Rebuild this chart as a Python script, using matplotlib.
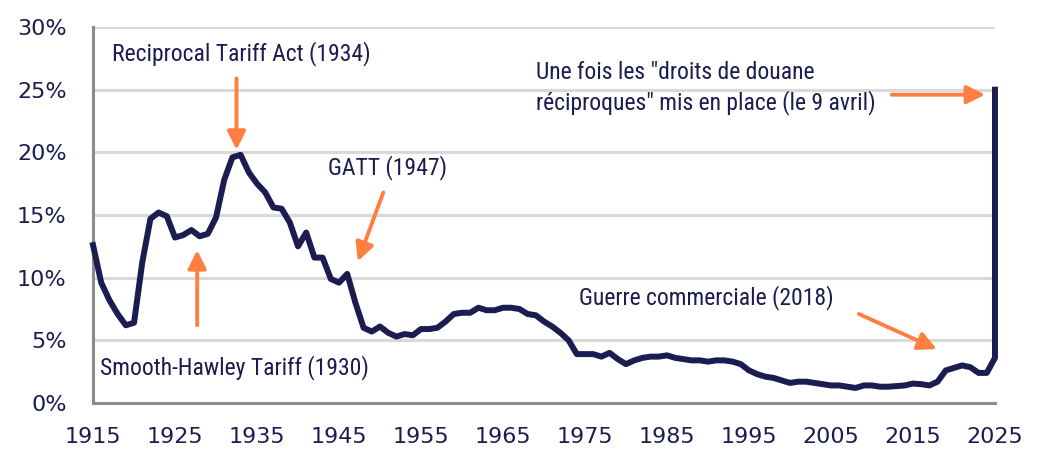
import matplotlib.pyplot as plt
from matplotlib import font_manager

# Average US tariff rate, 1915-2025
years = [1915, 1916, 1917, 1918, 1919, 1920, 1921, 1922, 1923, 1924,
         1925, 1926, 1927, 1928, 1929, 1930, 1931, 1932, 1933, 1934,
         1935, 1936, 1937, 1938, 1939, 1940, 1941, 1942, 1943, 1944,
         1945, 1946, 1947, 1948, 1949, 1950, 1951, 1952, 1953, 1954,
         1955, 1956, 1957, 1958, 1959, 1960, 1961, 1962, 1963, 1964,
         1965, 1966, 1967, 1968, 1969, 1970, 1971, 1972, 1973, 1974,
         1975, 1976, 1977, 1978, 1979, 1980, 1981, 1982, 1983, 1984,
         1985, 1986, 1987, 1988, 1989, 1990, 1991, 1992, 1993, 1994,
         1995, 1996, 1997, 1998, 1999, 2000, 2001, 2002, 2003, 2004,
         2005, 2006, 2007, 2008, 2009, 2010, 2011, 2012, 2013, 2014,
         2015, 2016, 2017, 2018, 2019, 2020, 2021, 2022, 2023, 2024,
         2025, 2025]
rate = [12.6, 9.6, 8.2, 7.1, 6.2, 6.4, 11.2, 14.7, 15.2, 14.9,
        13.2, 13.4, 13.8, 13.3, 13.5, 14.8, 17.8, 19.6, 19.8, 18.4,
        17.5, 16.8, 15.6, 15.5, 14.4, 12.5, 13.6, 11.6, 11.6, 9.9,
        9.6, 10.3, 8.0, 6.0, 5.7, 6.1, 5.6, 5.3, 5.5, 5.4,
        5.9, 5.9, 6.0, 6.5, 7.1, 7.2, 7.2, 7.6, 7.4, 7.4,
        7.6, 7.6, 7.5, 7.1, 7.0, 6.5, 6.1, 5.6, 5.0, 3.9,
        3.9, 3.9, 3.7, 4.0, 3.5, 3.1, 3.4, 3.6, 3.7, 3.7,
        3.8, 3.6, 3.5, 3.4, 3.4, 3.3, 3.4, 3.4, 3.3, 3.1,
        2.6, 2.3, 2.1, 2.0, 1.8, 1.6, 1.7, 1.7, 1.6, 1.5,
        1.4, 1.4, 1.3, 1.2, 1.4, 1.4, 1.3, 1.3, 1.35, 1.4,
        1.55, 1.5, 1.4, 1.7, 2.6, 2.8, 3.0, 2.85, 2.4, 2.4,
        3.6, 25.0]

navy = "#1b1c4f"
orange = "#ff7f41"

names = {f.name for f in font_manager.fontManager.ttflist}
narrow = "DejaVu Sans"
for cand in ["Roboto Condensed", "Archivo Narrow", "Liberation Sans Narrow",
             "IBM Plex Sans Condensed", "Open Sans Condensed"]:
    if cand in names:
        narrow = cand
        break

fig = plt.figure(figsize=(10.5, 4.71), dpi=100)
ax = fig.add_axes([0.0886, 0.1444, 0.859, 0.7983])

ax.plot(years, rate, color=navy, linewidth=4.3, solid_joinstyle="round",
        clip_on=False, zorder=3)

ax.set_xlim(1915, 2025)
ax.set_ylim(0, 30)
ax.set_xticks(range(1915, 2026, 10))
ax.set_yticks(range(0, 31, 5))
ax.set_yticklabels([f"{v}%" for v in range(0, 31, 5)])
ax.tick_params(length=0, labelsize=16, labelcolor=navy)
ax.tick_params(axis="x", pad=17)
ax.tick_params(axis="y", pad=19)
ax.grid(axis="y", color="#d9d9d9", linewidth=2.2)
ax.set_axisbelow(True)
for s in ["top", "right"]:
    ax.spines[s].set_visible(False)
for s in ["left", "bottom"]:
    ax.spines[s].set_color("#8a8a94")
    ax.spines[s].set_linewidth(2.2)

txt = dict(color=navy, fontsize=17, family=narrow)
arr = dict(arrowstyle="-|>,head_length=1.1,head_width=0.55", color=orange, lw=2.8,
           shrinkA=0, shrinkB=0)

ax.annotate("", xy=(1932.5, 20.2), xytext=(1932.5, 25.9), arrowprops=arr)
ax.text(1917.3, 27.9, "Reciprocal Tariff Act (1934)", ha="left", va="center", **txt)

ax.annotate("", xy=(1927.7, 12.2), xytext=(1927.7, 6.2), arrowprops=arr)
ax.text(1915.8, 2.8, "Smooth-Hawley Tariff (1930)", ha="left", va="center", **txt)

ax.annotate("", xy=(1947.3, 11.3), xytext=(1950.4, 16.8), arrowprops=arr)
ax.text(1943.7, 18.8, "GATT (1947)", ha="left", va="center", **txt)

ax.annotate("", xy=(2017.9, 4.3), xytext=(2008.4, 7.1), arrowprops=arr)
ax.text(1974.3, 8.4, "Guerre commerciale (2018)", ha="left", va="center", **txt)

ax.annotate("", xy=(2023.8, 24.6), xytext=(2012.4, 24.6), arrowprops=arr)
ax.text(1969.0, 26.4, "Une fois les \"droits de douane", ha="left", va="center", **txt)
ax.text(1969.0, 24.0, "réciproques\" mis en place (le 9 avril)", ha="left", va="center", **txt)

fig.savefig("out.png", dpi=100)
